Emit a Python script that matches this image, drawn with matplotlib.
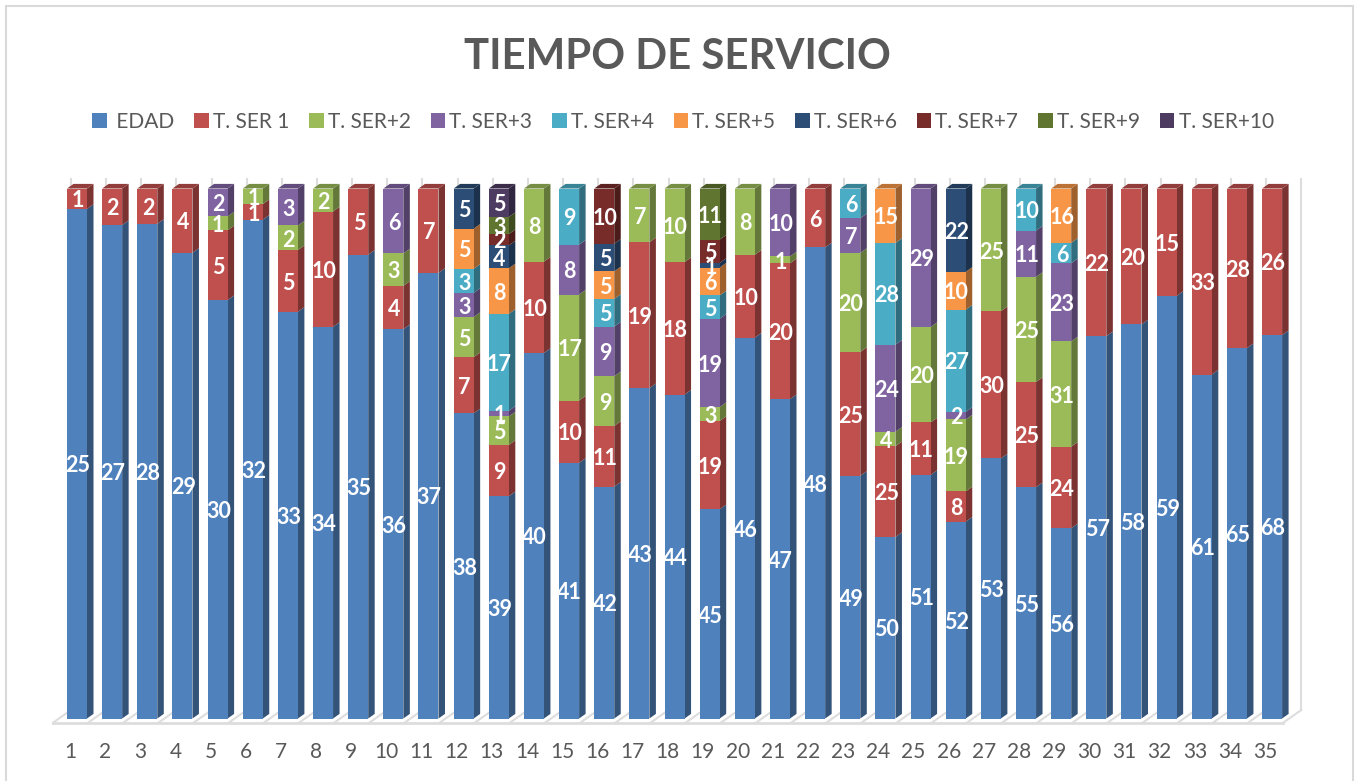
import matplotlib
matplotlib.use("Agg")
import matplotlib.pyplot as plt
import numpy as np
from matplotlib.patches import Rectangle, Polygon
from matplotlib.colors import to_rgb

plt.rcParams['font.family'] = ['Lato', 'DejaVu Sans']

categories = list(range(1, 36))
edad  = [25,27,28,29,30,32,33,34,35,36,37,38,39,40,41,42,43,44,45,46,47,48,49,50,51,52,53,55,56,57,58,59,61,65,68]
ser1  = [1,2,2,4,5,1,5,10,5,4,7,7,9,10,10,11,19,18,19,10,20,6,25,25,11,8,30,25,24,22,20,15,33,28,26]
ser2  = [0,0,0,0,1,1,2,2,0,3,0,5,5,8,17,9,7,10,3,8,1,0,20,4,20,19,25,25,31,0,0,0,0,0,0]
ser3  = [0,0,0,0,2,0,3,0,0,6,0,3,1,0,8,9,0,0,19,0,10,0,7,24,29,2,0,11,23,0,0,0,0,0,0]
ser4  = [0,0,0,0,0,0,0,0,0,0,0,3,17,0,9,5,0,0,5,0,0,0,6,28,0,27,0,10,6,0,0,0,0,0,0]
ser5  = [0,0,0,0,0,0,0,0,0,0,0,5,8,0,0,5,0,0,6,0,0,0,0,15,0,10,0,0,16,0,0,0,0,0,0]
ser6  = [0,0,0,0,0,0,0,0,0,0,0,5,4,0,0,5,0,0,1,0,0,0,0,0,0,22,0,0,0,0,0,0,0,0,0]
ser7  = [0,0,0,0,0,0,0,0,0,0,0,0,2,0,0,10,0,0,5,0,0,0,0,0,0,0,0,0,0,0,0,0,0,0,0]
ser9  = [0,0,0,0,0,0,0,0,0,0,0,0,3,0,0,0,0,0,11,0,0,0,0,0,0,0,0,0,0,0,0,0,0,0,0]
ser10 = [0,0,0,0,0,0,0,0,0,0,0,0,5,0,0,0,0,0,0,0,0,0,0,0,0,0,0,0,0,0,0,0,0,0,0]

series_names = [' EDAD', 'T. SER 1', 'T. SER+2', 'T. SER+3', 'T. SER+4',
                'T. SER+5', 'T. SER+6', 'T. SER+7', 'T. SER+9', 'T. SER+10']
series = [edad, ser1, ser2, ser3, ser4, ser5, ser6, ser7, ser9, ser10]
colors = ['#4F81BD', '#C0504D', '#9BBB59', '#8064A2', '#4BACC6',
          '#F79646', '#2C4D75', '#772C2A', '#5F7530', '#4D3B62']
title = 'TIEMPO DE SERVICIO'

W, H = 1360, 781
fig = plt.figure(figsize=(W / 100, H / 100), dpi=100, facecolor='white')
fig.add_artist(Rectangle((6 / W, -0.02), 1347 / W, 1 - 6 / H + 0.02, transform=fig.transFigure,
                         fill=False, ec='#D9D9D9', lw=1.5))

# plot rectangle in pixels
L, R, T, B = 50, 1310, 188.5, 718.5
ax = fig.add_axes([L / W, 1 - B / H, (R - L) / W, (B - T) / H])
ax.patch.set_alpha(0)
PITCH = 35.15
x0 = 1 - (77 - L) / PITCH
ax.set_xlim(x0, x0 + (R - L) / PITCH)
ax.set_ylim(0, 100)
for s in ax.spines.values():
    s.set_visible(False)
ax.yaxis.set_visible(False)

px_x = 1 / PITCH
px_y = 100 / (B - T)
bar_w = 20 * px_x
depth_x = 6.5 * px_x
depth_y = 4.6 * px_y

cats = np.array(categories, dtype=float)
data = np.array(series, dtype=float)
total = data.sum(axis=0)
pct = data / total * 100
bottoms = np.vstack([np.zeros(len(cats)), np.cumsum(pct, axis=0)[:-1]])

# walls and floor
wall_c = '#DDDDDD'
wall_x = np.append(cats, cats[-1] + 1) - 6 * px_x
for wx in wall_x:
    ax.plot([wx, wx], [0 + 8.5 * px_y, 100 + 9.5 * px_y], color=wall_c, lw=1.5, clip_on=False, zorder=1)
floor_front = -4.2 * px_y
floor_back = 8.5 * px_y
for wx in wall_x:
    ax.plot([wx - 18 * px_x, wx], [floor_front, floor_back], color=wall_c, lw=1.5, clip_on=False, zorder=1)
ax.plot([wall_x[0] - 18 * px_x, wall_x[-1] - 18 * px_x], [floor_front, floor_front],
        color=wall_c, lw=2, clip_on=False, zorder=1)


def shade(c, f):
    return tuple(v * f for v in to_rgb(c))


for k, (name, col) in enumerate(zip(series_names, colors)):
    ax.bar(cats, pct[k], bar_w, bottom=bottoms[k], color=col, label=name, zorder=3, lw=0)
    for i, v in enumerate(data[k]):
        if v == 0:
            continue
        xr = cats[i] + bar_w / 2
        xl = cats[i] - bar_w / 2
        y0, y1 = bottoms[k][i], bottoms[k][i] + pct[k][i]
        ax.add_patch(Polygon([(xr, y0), (xr + depth_x, y0 + depth_y), (xr + depth_x, y1 + depth_y), (xr, y1)],
                             closed=True, fc=shade(col, 0.64), ec='none', zorder=2.5, clip_on=False))
        if abs(y1 - 100) < 1e-6:
            ax.add_patch(Polygon([(xl, y1), (xr, y1), (xr + depth_x, y1 + depth_y), (xl + depth_x, y1 + depth_y)],
                                 closed=True, fc=shade(col, 0.76), ec='none', zorder=2.5, clip_on=False))
        ax.text(cats[i] + 0.02, (y0 + y1) / 2 - 2.2 * px_y, f'{int(v)}', color='white', fontsize=15.5, fontweight='bold',
                ha='center', va='center', zorder=5, clip_on=False)

ax.set_xticks(cats - 7 * px_x)
ax.set_xticklabels([str(c) for c in categories], fontsize=15, color='#595959')
ax.tick_params(axis='x', length=0, pad=17)

fig.text(677.5 / W, 1 - 57 / H, title, ha='center', va='center', fontsize=30.2, fontweight='bold', color='#595959')

handles, labels = ax.get_legend_handles_labels()
fig.legend(handles, labels, ncol=10, loc='center', bbox_to_anchor=(683 / W, 1 - 121.5 / H), frameon=False,
           fontsize=15, labelcolor='#595959', handlelength=0.7, handleheight=0.7, handletextpad=0.2,
           columnspacing=0.95)

fig.savefig('out.png', dpi=100)
